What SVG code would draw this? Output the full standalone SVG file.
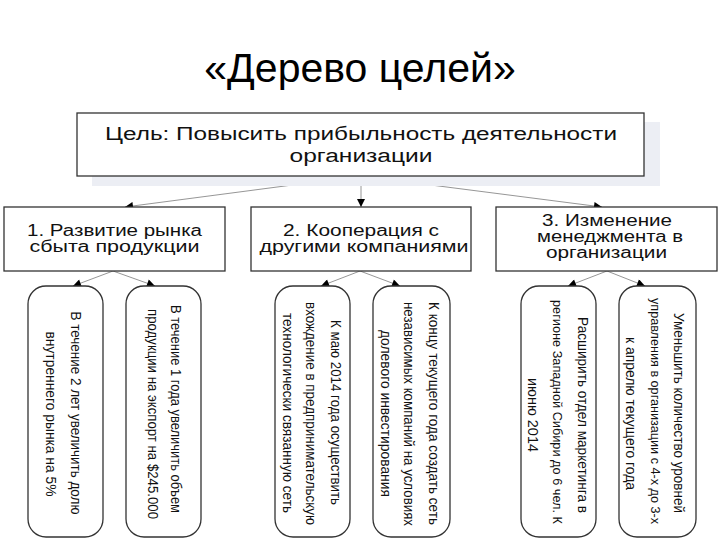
<svg xmlns="http://www.w3.org/2000/svg" width="720" height="540" viewBox="0 0 720 540">
  <defs>
    <marker id="arr" viewBox="0 0 10 10" refX="10" refY="5" markerWidth="9" markerHeight="8" markerUnits="userSpaceOnUse" orient="auto">
      <path d="M0,0 L10,5 L0,10 z" fill="#000"/>
    </marker>
    <style>
      .title { font-family: "Liberation Sans", Arial, sans-serif; font-size: 41px; fill: #000; }
      .box { fill: #fff; stroke: #333; stroke-width: 1.3; }
      .shadow { fill: #eceef4; stroke: none; }
      .pill { fill: #fff; stroke: #333; stroke-width: 1.3; }
      .t17 { font-family: "Liberation Sans", Arial, sans-serif; font-size: 18px; fill: #111; text-anchor: middle; }
      .t15 { font-family: "Liberation Sans", Arial, sans-serif; font-size: 16px; fill: #111; text-anchor: middle; }
      .t14 { font-family: "Liberation Sans", Arial, sans-serif; font-size: 14px; fill: #111; text-anchor: middle; }
      .t13 { font-family: "Liberation Sans", Arial, sans-serif; font-size: 13px; fill: #111; text-anchor: middle; }
      .conn { stroke: #8a8a8a; stroke-width: 0.9; fill: none; marker-end: url(#arr); }
    </style>
  </defs>
  <rect width="720" height="540" fill="#fff"/>

  <text class="title" x="360" y="82" text-anchor="middle">«Дерево целей»</text>

  <g id="connectors">
    <path class="conn" d="M361,176 L125,207"/>
    <path class="conn" d="M361,176 L361,207"/>
    <path class="conn" d="M361,176 L602,207"/>
    <path class="conn" d="M113,271 L73,286"/>
    <path class="conn" d="M113,271 L155,286"/>
    <path class="conn" d="M360,271 L321,286"/>
    <path class="conn" d="M360,271 L400,286"/>
    <path class="conn" d="M607,271 L568,286"/>
    <path class="conn" d="M607,271 L645,286"/>
  </g>

  <g id="goal">
    <rect class="shadow" x="92" y="122" width="568" height="64"/>
    <rect class="box" x="77" y="113" width="567" height="63"/>
    <text class="t17" x="361" y="140" textLength="512" lengthAdjust="spacingAndGlyphs">Цель: Повысить прибыльность деятельности</text>
    <text class="t17" x="361" y="162" textLength="143" lengthAdjust="spacingAndGlyphs">организации</text>
  </g>

  <g id="sub1">
    <rect class="box" x="4" y="207" width="221" height="64"/>
    <text class="t15" x="114.5" y="236" textLength="175" lengthAdjust="spacingAndGlyphs">1. Развитие рынка</text>
    <text class="t15" x="114.5" y="252" textLength="170" lengthAdjust="spacingAndGlyphs">сбыта продукции</text>
  </g>
  <g id="sub2">
    <rect class="box" x="251" y="207" width="220" height="64"/>
    <text class="t15" x="361" y="236" textLength="156" lengthAdjust="spacingAndGlyphs">2. Кооперация с</text>
    <text class="t15" x="364" y="252" textLength="209" lengthAdjust="spacingAndGlyphs">другими компаниями</text>
  </g>
  <g id="sub3">
    <rect class="box" x="496" y="207" width="221" height="64"/>
    <text class="t15" x="607" y="226" textLength="130" lengthAdjust="spacingAndGlyphs">3. Изменение</text>
    <text class="t15" x="610" y="242" textLength="146" lengthAdjust="spacingAndGlyphs">менеджмента в</text>
    <text class="t15" x="606.5" y="258" textLength="121" lengthAdjust="spacingAndGlyphs">организации</text>
  </g>

  <g id="task1">
    <rect class="pill" x="28" y="286" width="75" height="251" rx="18" ry="18"/>
    <text class="t14" transform="translate(70.5,413) rotate(90)" textLength="203" lengthAdjust="spacingAndGlyphs">В течение 2 лет увеличить долю</text>
    <text class="t14" transform="translate(45.5,414) rotate(90)" textLength="165" lengthAdjust="spacingAndGlyphs">внутреннего рынка на 5%</text>
  </g>
  <g id="task2">
    <rect class="pill" x="126" y="286" width="75" height="251" rx="18" ry="18"/>
    <text class="t14" transform="translate(170.5,409) rotate(90)" textLength="208" lengthAdjust="spacingAndGlyphs">В течение 1 года увеличить объем</text>
    <text class="t14" transform="translate(147.5,414) rotate(90)" textLength="210" lengthAdjust="spacingAndGlyphs">продукции на экспорт на $245.000</text>
  </g>
  <g id="task3">
    <rect class="pill" x="275" y="286" width="75" height="251" rx="18" ry="18"/>
    <text class="t14" transform="translate(330.5,412.5) rotate(90)" textLength="185" lengthAdjust="spacingAndGlyphs">К маю 2014 года осуществить</text>
    <text class="t14" transform="translate(305.5,413.5) rotate(90)" textLength="223" lengthAdjust="spacingAndGlyphs">вхождение в предпринимательскую</text>
    <text class="t14" transform="translate(282.5,413) rotate(90)" textLength="200" lengthAdjust="spacingAndGlyphs">технологически связанную сеть</text>
  </g>
  <g id="task4">
    <rect class="pill" x="373" y="286" width="77" height="251" rx="18" ry="18"/>
    <text class="t14" transform="translate(428.5,413.5) rotate(90)" textLength="223" lengthAdjust="spacingAndGlyphs">К концу текущего года создать сеть</text>
    <text class="t14" transform="translate(403.5,414) rotate(90)" textLength="224" lengthAdjust="spacingAndGlyphs">независимых компаний на условиях</text>
    <text class="t14" transform="translate(380.5,413.5) rotate(90)" textLength="167" lengthAdjust="spacingAndGlyphs">долевого инвестирования</text>
  </g>
  <g id="task5">
    <rect class="pill" x="521" y="286" width="75" height="251" rx="18" ry="18"/>
    <text class="t14" transform="translate(577.5,415) rotate(90)" textLength="196" lengthAdjust="spacingAndGlyphs">Расширить отдел маркетинга в</text>
    <text class="t13" transform="translate(552.5,412) rotate(90)" textLength="224" lengthAdjust="spacingAndGlyphs">регионе Западной Сибири до 6 чел. К</text>
    <text class="t14" transform="translate(527.5,415) rotate(90)" textLength="74" lengthAdjust="spacingAndGlyphs">июню 2014</text>
  </g>
  <g id="task6">
    <rect class="pill" x="619" y="286" width="77" height="251" rx="18" ry="18"/>
    <text class="t14" transform="translate(673.5,413) rotate(90)" textLength="200" lengthAdjust="spacingAndGlyphs">Уменьшить количество уровней</text>
    <text class="t13" transform="translate(650.5,411) rotate(90)" textLength="226" lengthAdjust="spacingAndGlyphs">управления в организации с 4-х до 3-х</text>
    <text class="t14" transform="translate(625.5,413.5) rotate(90)" textLength="153" lengthAdjust="spacingAndGlyphs">к апрелю текущего года</text>
  </g>
</svg>
